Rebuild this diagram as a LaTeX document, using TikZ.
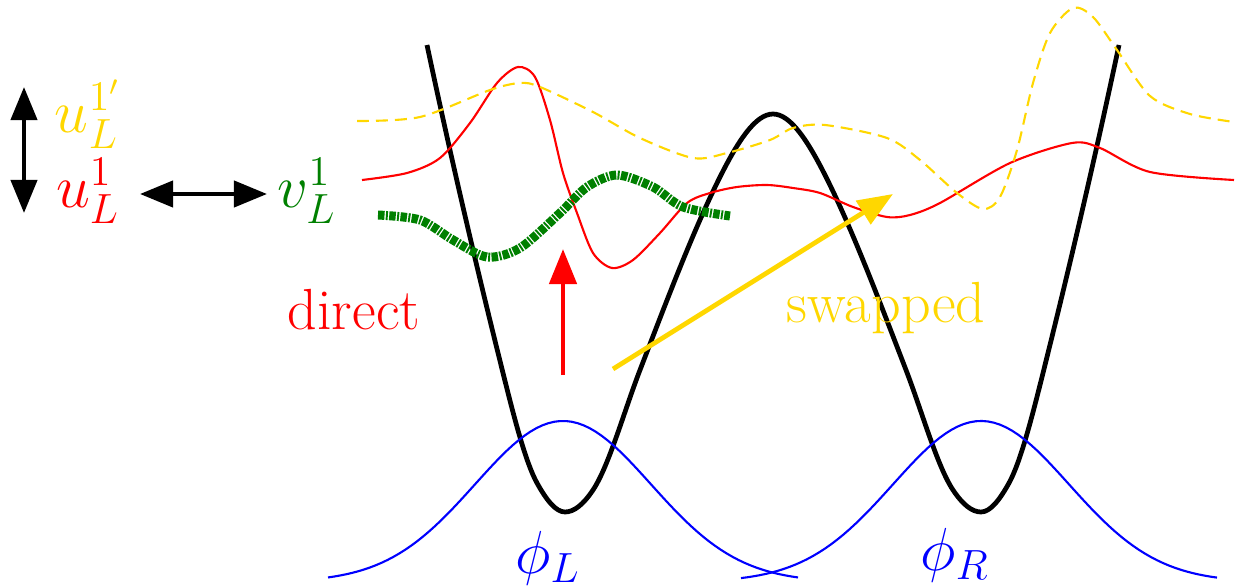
\documentclass[tikz,border=0pt]{standalone}
\usetikzlibrary{arrows.meta}
\definecolor{gold}{RGB}{255,215,0}
\definecolor{leafgreen}{RGB}{0,128,0}

\begin{document}
\begin{tikzpicture}[
        x=0.01cm, y=-0.01cm,
        every node/.style={font=\fontsize{16.5}{20}\selectfont, inner sep=0pt},
        potential/.style={draw=black, line width=1.35pt},
        wavefn/.style={line width=0.6pt},
        swapfn/.style={draw=gold, line width=0.6pt, dash pattern=on 3.4pt off 2pt},
        mixfn/.style={draw=leafgreen, line width=2.56pt, dash pattern=on 1.85pt off 0.4pt on 0.55pt off 0.4pt},
        bigarrow/.style={line width=1.35pt, -{Triangle[length=10pt, width=7.7pt]}},
        dblarrow/.style={draw=black, line width=1.2pt, {Triangle[length=9.4pt, width=7.4pt]}-{Triangle[length=9.4pt, width=7.4pt]}}
    ]
        \useasboundingbox (0,0) rectangle (1236,588);

        % Double-well potential
        \draw[potential] (427,45)
            .. controls (452.3,164.1) and (477.7,271.8) .. (503,373)
            .. controls (514.3,418.3) and (525.7,462.6) .. (537,483)
            .. controls (546.3,499.8) and (555.7,512) .. (565,512)
            .. controls (574.3,512) and (583.7,504) .. (593,490)
            .. controls (608.7,466.5) and (624.3,410.7) .. (640,370)
            .. controls (666.7,300.7) and (693.3,230.3) .. (720,177)
            .. controls (737.7,141.7) and (755.3,114) .. (773,114)
            .. controls (790.7,114) and (808.3,141.7) .. (826,177)
            .. controls (852.7,230.3) and (879.3,300.7) .. (906,370)
            .. controls (921.7,410.7) and (937.3,466.5) .. (953,490)
            .. controls (962.3,504) and (971.7,512) .. (981,512)
            .. controls (990.3,512) and (999.7,499.8) .. (1009,483)
            .. controls (1020.3,462.6) and (1031.7,418.3) .. (1043,373)
            .. controls (1068.3,271.8) and (1093.7,164.1) .. (1119,45);

        % Localised orbitals
        \draw[wavefn, blue] plot[domain=-235:235, samples=80] ({563+\x}, {582-161*exp(-(\x/88)*(\x/88)/2)});
        \draw[wavefn, blue] plot[domain=-240:236, samples=80] ({981+\x}, {582-161*exp(-(\x/88)*(\x/88)/2)});

        % Excited states
        \draw[wavefn, red] plot[smooth] coordinates {(362,180) (407,173) (440,158) (470,123) (497,83) (518,67) (535,77) (550,120) (563,173) (577,213) (593,253) (612,268) (633,260) (660,233) (687,203) (710,193) (737,187) (767,185) (793,188) (820,193) (853,207) (887,217) (910,215) (940,203) (1010,163) (1072,143) (1100,148) (1150,172) (1234,180)};
        \draw[swapfn] plot[smooth] coordinates {(357,121) (420,117) (490,90) (520,83) (540,87) (593,112) (640,138) (693,158) (727,153) (770,140) (793,128) (825,125) (887,138) (920,160) (957,193) (983,209) (1000,197) (1017,150) (1033,83) (1050,33) (1073,8) (1093,17) (1117,50) (1150,96) (1190,114) (1234,122)};
        \draw[mixfn] plot[smooth] coordinates {(378,215) (420,220) (453,240) (487,257) (520,248) (560,213) (587,187) (617,175) (653,187) (683,207) (730,216)};

        % Labels
        \node[text=gold, anchor=base] (u1p) at (88,133) {$u_L^{1'}$};
        \node[text=red, anchor=base] (u1) at (88,208) {$u_L^1$};
        \node[text=leafgreen, anchor=base] (v1) at (307,208) {$v_L^1$};
        \node[text=red, anchor=base] (direct) at (354,330) {direct};
        \node[text=gold, anchor=base] (swapped) at (886,323) {swapped};
        \node[text=blue, anchor=base] (phiL) at (548,573) {$\phi_L$};
        \node[text=blue, anchor=base] (phiR) at (955,570) {$\phi_R$};

        % Arrow ends
        \coordinate (vtop) at (24,87);
        \coordinate (vbot) at (24,213);
        \coordinate (hleft) at (140,194);
        \coordinate (hright) at (267,194);
        \coordinate (dfrom) at (563,375);
        \coordinate (dto) at (563,249);
        \coordinate (sfrom) at (613,369);
        \coordinate (sto) at (893,194);

        % Arrows
        \draw[dblarrow] (vtop) -- (vbot);
        \draw[dblarrow] (hleft) -- (hright);
        \draw[bigarrow, red] (dfrom) -- (dto);
        \draw[bigarrow, gold] (sfrom) -- (sto);
    \end{tikzpicture}
\end{document}
